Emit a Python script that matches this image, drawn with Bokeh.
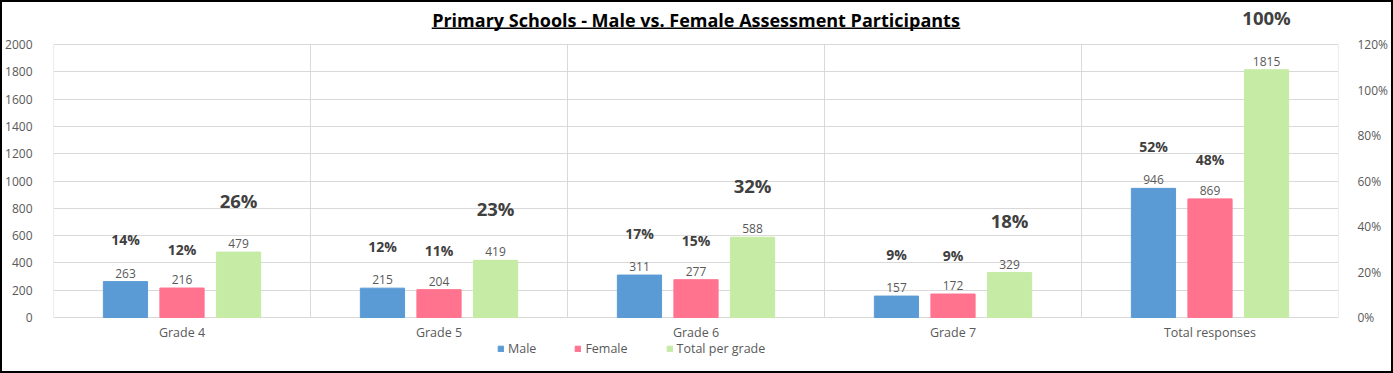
import numpy as np
from bokeh.plotting import figure
from bokeh.models import (ColumnDataSource, Range1d, LinearAxis, FixedTicker,
                          NumeralTickFormatter, LabelSet, Label, BoxAnnotation,
                          Legend, LegendItem)
from bokeh.core.properties import value
from bokeh.embed import file_html
from bokeh.resources import INLINE

categories = ["Grade 4", "Grade 5", "Grade 6", "Grade 7", "Total responses"]
male = [263, 215, 311, 157, 946]
female = [216, 204, 277, 172, 869]
total = [479, 419, 588, 329, 1815]
male_pct = [14, 12, 17, 9, 52]
female_pct = [12, 11, 15, 9, 48]
total_pct = [26, 23, 32, 18, 100]
left_ticks = [0, 200, 400, 600, 800, 1000, 1200, 1400, 1600, 1800, 2000]
right_ticks = [0, 0.2, 0.4, 0.6, 0.8, 1.0, 1.2]
title_text = "Primary Schools - Male vs. Female Assessment Participants"

FONT = "Open Sans"
GRID = "#d9d9d9"
TXT = "#595959"
LBL = "#404040"
COLORS = ["#5b9bd5", "#ff738f", "#c5eba5"]

BORDER = 2
W, H = 1393, 373
AX_MAX = 2000
PLOT_PX = 273.0            # pixels from 0 to 2000
K = PLOT_PX / AX_MAX       # px per unit
TOP_PX = 42                # px between canvas top and the 2000 line
BOT_PX = 58                # px between 0 line and canvas bottom
Y_START = -BOT_PX / K
Y_END = AX_MAX + TOP_PX / K
PCT_MAX = 1.2
ML, MR = 50, 57

xs = np.arange(len(categories)) + 0.5

p = figure(width=W, height=H, output_backend="svg", toolbar_location=None,
           x_range=Range1d(0, len(categories)), y_range=Range1d(Y_START, Y_END),
           min_border_left=ML, min_border_right=MR, min_border_top=0,
           min_border_bottom=0)
p.styles = {"border": f"{BORDER}px solid #000000"}
p.title.visible = False
p.outline_line_color = None
p.background_fill_color = "white"
p.border_fill_color = "white"

p.extra_y_ranges = {"pct": Range1d(Y_START * PCT_MAX / AX_MAX, Y_END * PCT_MAX / AX_MAX)}

# grid
p.xgrid.visible = False
p.ygrid.ticker = FixedTicker(ticks=left_ticks)
p.ygrid.grid_line_color = GRID
p.ygrid.grid_line_width = 1

bounds = np.arange(len(categories) + 1)
p.segment(x0=bounds, y0=0, x1=bounds, y1=AX_MAX, line_color=GRID, line_width=1)

# axes
p.xaxis.visible = False
p.yaxis.ticker = FixedTicker(ticks=left_ticks)
ax = p.yaxis[0]
ax.axis_line_color = None
ax.major_tick_line_color = None
ax.minor_tick_line_color = None
ax.major_label_text_font = FONT
ax.major_label_text_font_size = "12px"
ax.major_label_text_color = TXT
ax.major_label_standoff = 15

rax = LinearAxis(y_range_name="pct", ticker=FixedTicker(ticks=right_ticks),
                 formatter=NumeralTickFormatter(format="0%"))
rax.axis_line_color = None
rax.major_tick_line_color = None
rax.minor_tick_line_color = None
rax.major_label_text_font = FONT
rax.major_label_text_font_size = "12px"
rax.major_label_text_color = TXT
rax.major_label_standoff = 13
p.add_layout(rax, "right")

# category labels
cat_src = ColumnDataSource(dict(x=xs, y=[0] * len(xs), txt=categories))
p.add_layout(LabelSet(x="x", y="y", text="txt", source=cat_src, y_offset=-15,
                      text_align="center", text_baseline="middle",
                      text_font=value(FONT), text_font_size="12.5px", text_color=TXT))

# bars
offsets = [-0.22, 0.0, 0.22]
names = ["Male", "Female", "Total per grade"]
vals = [male, female, total]
pcts = [male_pct, female_pct, total_pct]
pct_off = [42, 39, 52]
pct_size = ["14px", "14px", "18.5px"]
items = []
for off, name, v, pc, col, po, ps in zip(offsets, names, vals, pcts, COLORS, pct_off, pct_size):
    src = ColumnDataSource(dict(x=xs + off, top=v, txt=[str(a) for a in v],
                                ptxt=[f"{a}%" for a in pc]))
    r = p.vbar(x="x", top="top", width=0.172, bottom=0, source=src,
               fill_color=col, line_color=col)
    items.append(LegendItem(label=name, renderers=[r]))
    p.add_layout(LabelSet(x="x", y="top", text="txt", source=src, y_offset=4,
                          text_align="center", text_baseline="bottom",
                          text_font=value(FONT), text_font_size="12px", text_color=TXT))
    p.add_layout(LabelSet(x="x", y="top", text="ptxt", source=src, y_offset=po,
                          text_align="center", text_baseline="middle",
                          text_font=value(FONT), text_font_size=ps,
                          text_font_style="bold", text_color=LBL))

legend = Legend(items=items, orientation="horizontal", location=(444, 18),
                glyph_width=7, glyph_height=7, label_standoff=4, spacing=38,
                padding=0, margin=0, border_line_color=None,
                background_fill_alpha=0, label_height=12,
                label_text_font=FONT, label_text_font_size="12.5px",
                label_text_color=TXT)
p.add_layout(legend, "center")

# title with underline
xc = len(categories) / 2
p.add_layout(Label(x=xc, y=Y_END, y_offset=-17, text=title_text,
                   text_align="center", text_baseline="middle", text_font=FONT,
                   text_font_size="18px", text_font_style="bold",
                   text_color="#000000"))
px_x = (W - ML - MR) / len(categories)
half_w = 264.5 / px_x
p.add_layout(BoxAnnotation(left=xc - half_w, right=xc + half_w,
                           top=Y_END - 25 / K, bottom=Y_END - 26.5 / K,
                           fill_color="#000000", fill_alpha=1, line_color=None))

open("out.html", "w").write(file_html(p, INLINE))
